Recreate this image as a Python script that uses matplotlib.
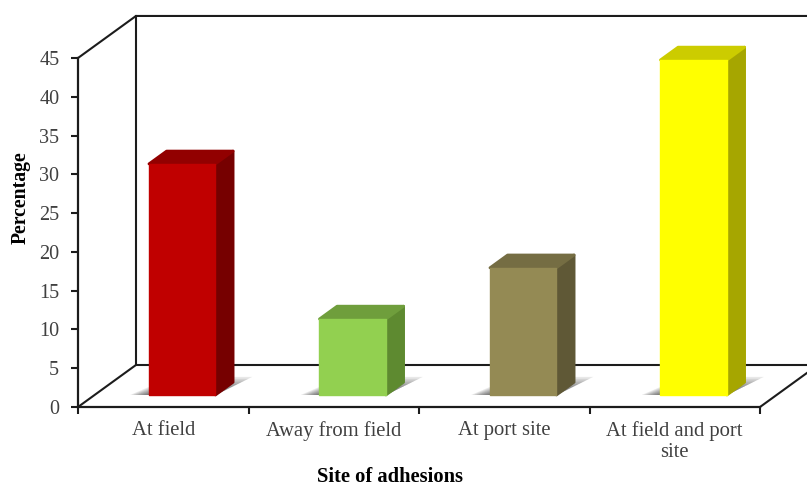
import matplotlib
matplotlib.use('Agg')
import matplotlib.pyplot as plt
from matplotlib.patches import Polygon

plt.rcParams['font.family'] = ['Liberation Serif', 'DejaVu Serif']

# data
categories = ['At field', 'Away from field', 'At port site', 'At field and port\nsite']
values = [29.8, 9.8, 16.4, 43.2]
y_ticks = [0, 5, 10, 15, 20, 25, 30, 35, 40, 45]

front_colors = ['#C00000', '#92D050', '#948A54', '#FFFF00']
side_colors = ['#760000', '#5E8A30', '#5F5836', '#A6A600']
top_colors = ['#920000', '#6F9E3C', '#756D43', '#CCCC00']

W, H = 807, 487
LINE = '#1c1c1c'
TEXT = '#404040'

# oblique projection of the chart box, in data units
DEPTH_X = 0.34
DEPTH_Y = 5.42
BAR_WIDTH = 0.39
BAR_OFFSET = -0.181   # front left edge relative to category centre
BAR_T0 = 0.286        # where the bar starts inside the box depth
BAR_T1 = 0.59


def project(x, y, t):
    return (x + t * DEPTH_X, y + t * DEPTH_Y)


fig = plt.figure(figsize=(W / 100, H / 100), dpi=100, facecolor='white')
ax = fig.add_axes([78 / W, 1 - 407 / H, (760 - 78) / W, (407 - 58) / H])
ax.set_xlim(0, 4)
ax.set_ylim(0, 45)
ax.patch.set_visible(False)

for side in ['top', 'right']:
    ax.spines[side].set_visible(False)
for side in ['left', 'bottom']:
    ax.spines[side].set_linewidth(1.6)
    ax.spines[side].set_color(LINE)

ax.set_yticks(y_ticks)
ax.set_xticks(range(5))
ax.set_xticklabels([])
ax.set_xticks([i + 0.5 for i in range(4)], minor=True)
ax.set_xticklabels(categories, minor=True, fontsize=14.9, color=TEXT, linespacing=1.15)
ax.tick_params(axis='y', length=5, width=1.5, color=LINE, labelsize=14.5, labelcolor=TEXT, pad=8.5)
ax.tick_params(axis='x', which='major', length=5, width=1.5, color=LINE)
ax.tick_params(axis='x', which='minor', length=0, pad=10)

ax.set_xlabel('Site of adhesions', fontsize=14.8, fontweight='bold', color='black')
ax.xaxis.set_label_coords(0.457, -0.173)
ax.set_ylabel('Percentage', fontsize=14.2, fontweight='bold', color='black')
ax.yaxis.set_label_coords(-0.07, 0.6)

# back wall and floor edges
box_lines = [
    [project(0, 45, 0), project(0, 45, 1), project(5, 45, 1)],
    [project(0, 45, 1), project(0, 0, 1), project(5, 0, 1)],
    [project(0, 0, 0), project(0, 0, 1)],
    [project(4, 0, 0), project(4, 0, 1)],
]
for pts in box_lines:
    xs, ys = zip(*pts)
    ax.plot(xs, ys, color=LINE, lw=1.5, clip_on=False, zorder=1, solid_joinstyle='miter')

# bars
for i, value in enumerate(values):
    x0 = i + 0.5 + BAR_OFFSET
    x1 = x0 + BAR_WIDTH
    z = 3 + i

    # floor shadow, fading out from the bar
    for k in range(1, 11):
        f = k / 10
        far = BAR_T0 + 0.43 * f
        shadow = [project(x0 - 0.11 * f, 0, BAR_T0),
                  project(x1, 0, BAR_T0),
                  project(x1 + 0.07 * f, 0, far),
                  project(x0 - 0.11 * f + 0.1, 0, far)]
        ax.add_patch(Polygon(shadow, closed=True, facecolor='#303030', edgecolor='none',
                             alpha=0.11, zorder=2, clip_on=False))

    front = [project(x0, 0, BAR_T0), project(x1, 0, BAR_T0),
             project(x1, value, BAR_T0), project(x0, value, BAR_T0)]
    side = [project(x1, 0, BAR_T0), project(x1, 0, BAR_T1),
            project(x1, value, BAR_T1), project(x1, value, BAR_T0)]
    top = [project(x0, value, BAR_T0), project(x1, value, BAR_T0),
           project(x1, value, BAR_T1), project(x0, value, BAR_T1)]

    ax.add_patch(Polygon(side, closed=True, facecolor=side_colors[i], edgecolor=side_colors[i],
                         lw=2, joinstyle='round', zorder=z, clip_on=False))
    ax.add_patch(Polygon(top, closed=True, facecolor=top_colors[i], edgecolor=top_colors[i],
                         lw=2, joinstyle='round', zorder=z, clip_on=False))
    ax.add_patch(Polygon(front, closed=True, facecolor=front_colors[i], edgecolor=front_colors[i],
                         lw=1, joinstyle='round', zorder=z + 0.5, clip_on=False))

fig.savefig('out.png', dpi=100)
